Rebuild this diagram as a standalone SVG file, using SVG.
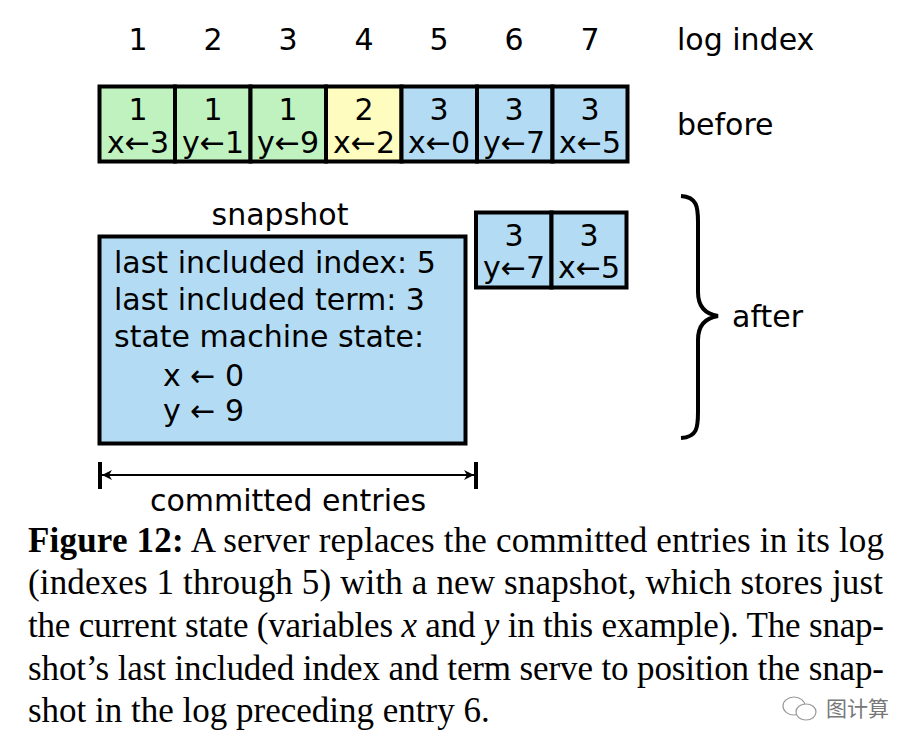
<svg xmlns="http://www.w3.org/2000/svg" width="921" height="750" viewBox="0 0 921 750">
<style>
.s{font-family:"DejaVu Sans","Liberation Sans",sans-serif;font-size:30px;fill:#000}
.m{text-anchor:middle}
.b{stroke:#000;stroke-width:4}
.g{fill:#c0f2c0}.y{fill:#fffcc0}.u{fill:#b3dcf4}
.cap{font-family:"Liberation Serif","Times New Roman",serif;font-size:35px;fill:#000}
</style>
<defs>
<marker id="ah" viewBox="0 0 10 10" refX="10" refY="5" markerWidth="10" markerHeight="10" markerUnits="userSpaceOnUse" orient="auto-start-reverse"><path d="M0,0 L10,5 L0,10 L3,5 Z" fill="#000"/></marker>
</defs>
<rect width="921" height="750" fill="#fff"/>
<g id="index-labels" class="s m">
<text x="138" y="50">1</text><text x="213" y="50">2</text><text x="288" y="50">3</text><text x="364" y="50">4</text><text x="439" y="50">5</text><text x="514" y="50">6</text><text x="590" y="50">7</text>
<text x="677" y="50" style="text-anchor:start">log index</text>
</g>
<g id="before">
<rect class="g b" x="99.5" y="86.5" width="75.5" height="75"/>
<rect class="g b" x="175" y="86.5" width="75.5" height="75"/>
<rect class="g b" x="250.5" y="86.5" width="75.5" height="75"/>
<rect class="y b" x="326" y="86.5" width="75.5" height="75"/>
<rect class="u b" x="401.5" y="86.5" width="75.5" height="75"/>
<rect class="u b" x="477" y="86.5" width="75.5" height="75"/>
<rect class="u b" x="552.5" y="86.5" width="75" height="75"/>
<g class="s m">
<text x="138" y="120">1</text><text x="138" y="153">x←3</text>
<text x="213" y="120">1</text><text x="213" y="153">y←1</text>
<text x="288" y="120">1</text><text x="288" y="153">y←9</text>
<text x="364" y="120">2</text><text x="364" y="153">x←2</text>
<text x="439" y="120">3</text><text x="439" y="153">x←0</text>
<text x="514" y="120">3</text><text x="514" y="153">y←7</text>
<text x="590" y="120">3</text><text x="590" y="153">x←5</text>
</g>
<text class="s" x="677" y="135">before</text>
</g>
<g id="after-entries">
<rect class="u b" x="476" y="212.5" width="75.5" height="75"/>
<rect class="u b" x="551.5" y="212.5" width="75" height="75"/>
<g class="s m">
<text x="514" y="246">3</text><text x="514" y="278">y←7</text>
<text x="589" y="246">3</text><text x="589" y="278">x←5</text>
</g>
</g>
<g id="snapshot">
<text class="s m" x="280" y="225">snapshot</text>
<rect class="u b" x="99.5" y="236.5" width="366" height="207"/>
<g class="s">
<text x="114" y="273">last included index: 5</text>
<text x="114" y="310">last included term: 3</text>
<text x="114" y="347">state machine state:</text>
<text x="163" y="386">x ← 0</text>
<text x="163" y="421">y ← 9</text>
</g>
</g>
<g id="after-label">
<path d="M681,196 C697,197 698,207 698,222 L698,292 C698,306 705,314 718,316 C705,318 698,326 698,340 L698,412 C698,428 697,437 681,438" fill="none" stroke="#000" stroke-width="4"/>
<text class="s" x="732" y="327">after</text>
</g>
<g id="connectors">
<line x1="102" y1="475" x2="474" y2="475" stroke="#000" stroke-width="2" marker-start="url(#ah)" marker-end="url(#ah)"/>
<line x1="100" y1="462" x2="100" y2="489" stroke="#000" stroke-width="4"/>
<line x1="476" y1="462" x2="476" y2="489" stroke="#000" stroke-width="4"/>
</g>
<text class="s m" x="288" y="511">committed entries</text>
<g id="caption" class="cap">
<text x="28" y="552" textLength="856" lengthAdjust="spacing"><tspan font-weight="bold">Figure 12:</tspan> A server replaces the committed entries in its log</text>
<text x="28" y="594" textLength="855" lengthAdjust="spacing">(indexes 1 through 5) with a new snapshot, which stores just</text>
<text x="28" y="637" textLength="856" lengthAdjust="spacing">the current state (variables <tspan font-style="italic">x</tspan> and <tspan font-style="italic">y</tspan> in this example). The snap-</text>
<text x="28" y="680" textLength="856" lengthAdjust="spacing">shot’s last included index and term serve to position the snap-</text>
<text x="28" y="722">shot in the log preceding entry 6.</text>
</g>
<g id="watermark" fill="none" stroke="#999" stroke-width="1.2">
<ellipse cx="794" cy="706" rx="11" ry="9"/>
<ellipse cx="806" cy="712" rx="10" ry="8" fill="#fff"/>
<text x="826" y="716" font-family="'Noto Sans CJK SC',sans-serif" font-size="21" fill="#777" stroke="none">图计算</text>
</g>
</svg>
